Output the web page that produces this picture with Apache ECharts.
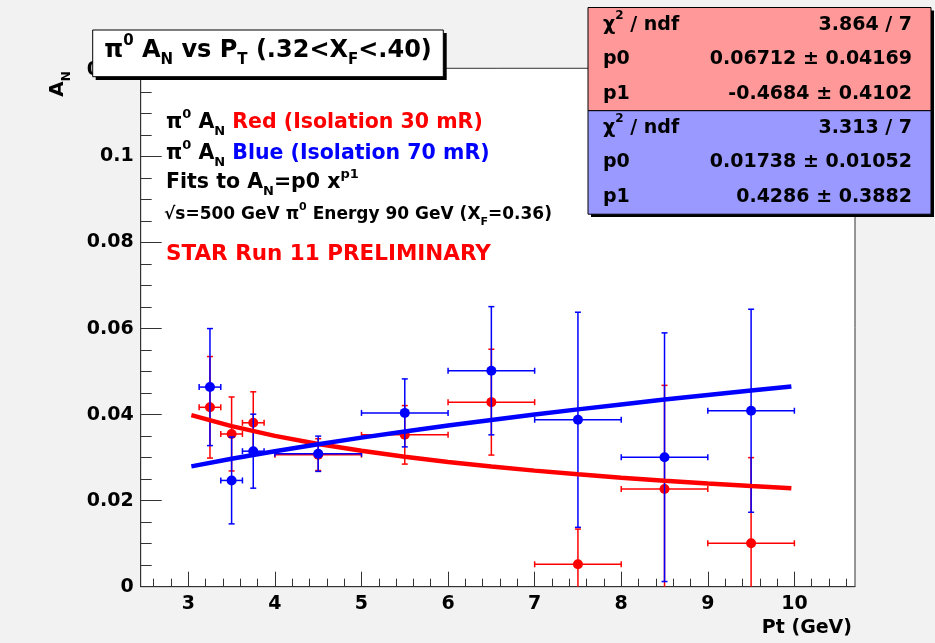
<!DOCTYPE html>
<html><head><meta charset="utf-8">
<script src="https://cdn.jsdelivr.net/npm/echarts@6/dist/echarts.min.js"></script>
<style>html,body{margin:0;padding:0;background:#f2f2f2}#c{width:935px;height:643px}</style>
</head><body><div id="c"></div>
<script>
// ---- data ----
const ptX   = [3.25, 3.5, 3.75, 4.5, 5.5, 6.5, 7.5, 8.5, 9.5];
const ptXErr = [0.125, 0.125, 0.125, 0.5, 0.5, 0.5, 0.5, 0.5, 0.5];
const redY   = [0.0417, 0.0355, 0.0381, 0.0307, 0.0353, 0.0429, 0.0052, 0.0227, 0.0101];
const redErr = [0.0118, 0.0086, 0.0072, 0.0037, 0.0068, 0.0123, 0.0082, 0.0241, 0.0199];
const blueY   = [0.0464, 0.0247, 0.0315, 0.0309, 0.0404, 0.0502, 0.0388, 0.0301, 0.0409];
const blueErr = [0.0136, 0.0101, 0.0086, 0.0041, 0.0079, 0.0149, 0.0250, 0.0289, 0.0236];
// fit curves A_N = p0 x^p1
const fitX    = [3.035, 3.5, 4, 4.5, 5, 5.5, 6, 6.5, 7, 7.5, 8, 8.5, 9, 9.5, 9.965];
const redFit  = [0.0399, 0.03733, 0.03506, 0.03318, 0.03159, 0.03020, 0.02900, 0.02793, 0.02698, 0.02612, 0.02534, 0.02463, 0.02398, 0.02338, 0.02286];
const blueFit = [0.02797, 0.02973, 0.03148, 0.03311, 0.03465, 0.03609, 0.03746, 0.03877, 0.04002, 0.04122, 0.04237, 0.04349, 0.04457, 0.04561, 0.04656];
const xTicks = [3, 4, 5, 6, 7, 8, 9, 10];
const yTicks = [0, 0.02, 0.04, 0.06, 0.08, 0.10, 0.12];
const redStats  = [["χ2", "3.864 / 7"], ["p0", "0.06712 ± 0.04169"], ["p1", "-0.4684 ± 0.4102"]];
const blueStats = [["χ2", "3.313 / 7"], ["p0", "0.01738 ± 0.01052"], ["p1", "0.4286 ± 0.3882"]];

const X_MIN = 2.45, X_MAX = 10.7, Y_MIN = 0, Y_MAX = 0.1205;
const xMinor = []; for (let i = 13; i <= 53; i++) xMinor.push(+(i * 0.2).toFixed(2));
const yMinor = []; for (let i = 1; i <= 24; i++) yMinor.push(+(i * 0.005).toFixed(3));

const FF = "'DejaVu Sans'";
const RED = '#ff0000', BLUE = '#0000ff';

function rows(arr){ return ptX.map((x,i)=>[x, arr[0][i], ptXErr[i], arr[1][i]]); }

function errRender(color){
  return function(params, api){
    const cs = params.coordSys;
    const yT = cs.y, yB = cs.y + cs.height;
    const x = api.value(0), y = api.value(1), ex = api.value(2), ey = api.value(3);
    const c = api.coord([x, y]), l = api.coord([x - ex, y]), r = api.coord([x + ex, y]);
    const t = api.coord([x, y + ey]), b = api.coord([x, y - ey]);
    const st = {stroke: color, lineWidth: 1.5};
    const cap = 3;
    const ch = [];
    ch.push({type:'line', shape:{x1:l[0], y1:c[1], x2:r[0], y2:c[1]}, style:st});
    ch.push({type:'line', shape:{x1:c[0], y1:Math.max(t[1], yT), x2:c[0], y2:Math.min(b[1], yB)}, style:st});
    ch.push({type:'line', shape:{x1:l[0], y1:c[1]-cap, x2:l[0], y2:c[1]+cap}, style:st});
    ch.push({type:'line', shape:{x1:r[0], y1:c[1]-cap, x2:r[0], y2:c[1]+cap}, style:st});
    if (t[1] >= yT) ch.push({type:'line', shape:{x1:c[0]-cap, y1:t[1], x2:c[0]+cap, y2:t[1]}, style:st});
    if (b[1] <= yB) ch.push({type:'line', shape:{x1:c[0]-cap, y1:b[1], x2:c[0]+cap, y2:b[1]}, style:st});
    ch.push({type:'circle', shape:{cx:c[0], cy:c[1], r:5}, style:{fill: color}});
    return {type:'group', children: ch};
  };
}

function mk(fs, lh){
  return {
    m:  {fontSize: fs, fontWeight:'bold', fontFamily: FF, fill:'#000', lineHeight: lh},
    r:  {fontSize: fs, fontWeight:'bold', fontFamily: FF, fill: RED, lineHeight: lh},
    b:  {fontSize: fs, fontWeight:'bold', fontFamily: FF, fill: BLUE, lineHeight: lh},
    sub:{fontSize: Math.round(fs*0.62), fontWeight:'bold', fontFamily: FF, fill:'#000', lineHeight: Math.round(fs*0.62), verticalAlign:'bottom'},
    sup:{fontSize: Math.round(fs*0.62), fontWeight:'bold', fontFamily: FF, fill:'#000', lineHeight: Math.round(fs*0.62), verticalAlign:'top'}
  };
}
function txt(x, y, text, fs, lh, align, extra){
  return Object.assign({type:'text', x:x, y:y, z:100,
    style:{text:text, align: align || 'left', verticalAlign:'middle', rich: mk(fs, lh),
      fontSize: fs, fontWeight:'bold', fontFamily: FF, fill:'#000'}}, extra || {});
}

const graphics = [];
// stats boxes
graphics.push({type:'rect', z:99, shape:{x:591, y:10.5, width:343, height:206.5}, style:{fill:'#000'}});
graphics.push({type:'rect', z:99, shape:{x:588, y:7.5, width:343, height:103.2}, style:{fill:'#ff9999', stroke:'#000', lineWidth:1}});
graphics.push({type:'rect', z:99, shape:{x:588, y:110.7, width:343, height:103.5}, style:{fill:'#9999ff', stroke:'#000', lineWidth:1}});
function statRows(st, y0){
  st.forEach((row, i) => {
    const y = y0 + i * 34.4;
    const lab = row[0] === 'χ2' ? '{m|χ}{sup|2}{m| / ndf}' : '{m|' + row[0] + '}';
    graphics.push(txt(603, y, lab, 19, 30, 'left'));
    graphics.push(txt(912, y, '{m|' + row[1] + '}', 19, 30, 'right'));
  });
}
statRows(redStats, 25);
statRows(blueStats, 128);
// title box
graphics.push({type:'rect', z:99, shape:{x:95.7, y:33, width:351, height:47}, style:{fill:'#000'}});
graphics.push({type:'rect', z:99, shape:{x:92.7, y:30, width:350.6, height:46.7}, style:{fill:'#fff', stroke:'#000', lineWidth:1}});
graphics.push(txt(268, 51, '{m|π}{sup|0}{m| A}{sub|N}{m| vs P}{sub|T}{m| (.32<X}{sub|F}{m|<.40)}', 24, 34, 'center'));
// legend text
graphics.push(txt(166, 123, '{m|π}{sup|0}{m| A}{sub|N}{r| Red (Isolation 30 mR)}', 20.5, 30, 'left'));
graphics.push(txt(166, 154, '{m|π}{sup|0}{m| A}{sub|N}{b| Blue (Isolation 70 mR)}', 20.5, 30, 'left'));
graphics.push(txt(166, 183, '{m|Fits to A}{sub|N}{m|=p0 x}{sup|p1}', 20.5, 30, 'left'));
graphics.push(txt(164, 215, '{m|√s=500 GeV π}{sup|0}{m| Energy 90 GeV (X}{sub|F}{m|=0.36)}', 17, 26, 'left'));
graphics.push(txt(166, 254, '{r|STAR Run 11 PRELIMINARY}', 21.5, 30, 'left'));
// axis titles
graphics.push(txt(852, 628, '{m|Pt (GeV)}', 19, 26, 'right'));
graphics.push(txt(58, 84, '{m|A}{sub|N}', 20, 30, 'center', {rotation: Math.PI/2}));

const axisLbl = {fontFamily: FF, fontWeight:'bold', fontSize:19, color:'#000'};
const option = {
  animation: false,
  backgroundColor: '#f2f2f2',
  grid: {left: 140.7, right: 80, top: 68.3, bottom: 56.3, show: true, backgroundColor: '#fff', borderColor: '#333', borderWidth: 1},
  xAxis: [
    {type:'value', min:X_MIN, max:X_MAX, position:'bottom',
     axisLine:{show:true, lineStyle:{color:'#333', width:1}},
     axisTick:{show:true, inside:true, length:15, customValues: xTicks, lineStyle:{color:'#333', width:1}},
     axisLabel:Object.assign({customValues: xTicks, margin: 8}, axisLbl),
     splitLine:{show:false}},
    {type:'value', min:X_MIN, max:X_MAX, position:'bottom',
     axisLine:{show:false},
     axisTick:{show:true, inside:true, length:8, customValues: xMinor, lineStyle:{color:'#333', width:1}},
     axisLabel:{show:false}, splitLine:{show:false}}
  ],
  yAxis: [
    {type:'value', min:Y_MIN, max:Y_MAX, position:'left',
     axisLine:{show:true, lineStyle:{color:'#333', width:1}},
     axisTick:{show:true, inside:true, length:21, customValues: yTicks, lineStyle:{color:'#333', width:1}},
     axisLabel:Object.assign({customValues: yTicks, margin: 7, formatter: v => String(parseFloat((+v).toFixed(4)))}, axisLbl),
     splitLine:{show:false}},
    {type:'value', min:Y_MIN, max:Y_MAX, position:'left',
     axisLine:{show:false},
     axisTick:{show:true, inside:true, length:11, customValues: yMinor, lineStyle:{color:'#333', width:1}},
     axisLabel:{show:false}, splitLine:{show:false}}
  ],
  series: [
    {type:'custom', name:'red', renderItem: errRender(RED), data: rows([redY, redErr]), encode:{x:0, y:1}, z:2},
    {type:'line', name:'redFit', data: fitX.map((x,i)=>[x, redFit[i]]), showSymbol:false, symbol:'none', lineStyle:{color:RED, width:4.5}, z:2},
    {type:'custom', name:'blue', renderItem: errRender(BLUE), data: rows([blueY, blueErr]), encode:{x:0, y:1}, z:2},
    {type:'line', name:'blueFit', data: fitX.map((x,i)=>[x, blueFit[i]]), showSymbol:false, symbol:'none', lineStyle:{color:BLUE, width:4.5}, z:2}
  ],
  graphic: graphics
};
const chart = echarts.init(document.getElementById('c'), null, {renderer:'canvas'});
chart.setOption(option);
</script>
</body></html>
